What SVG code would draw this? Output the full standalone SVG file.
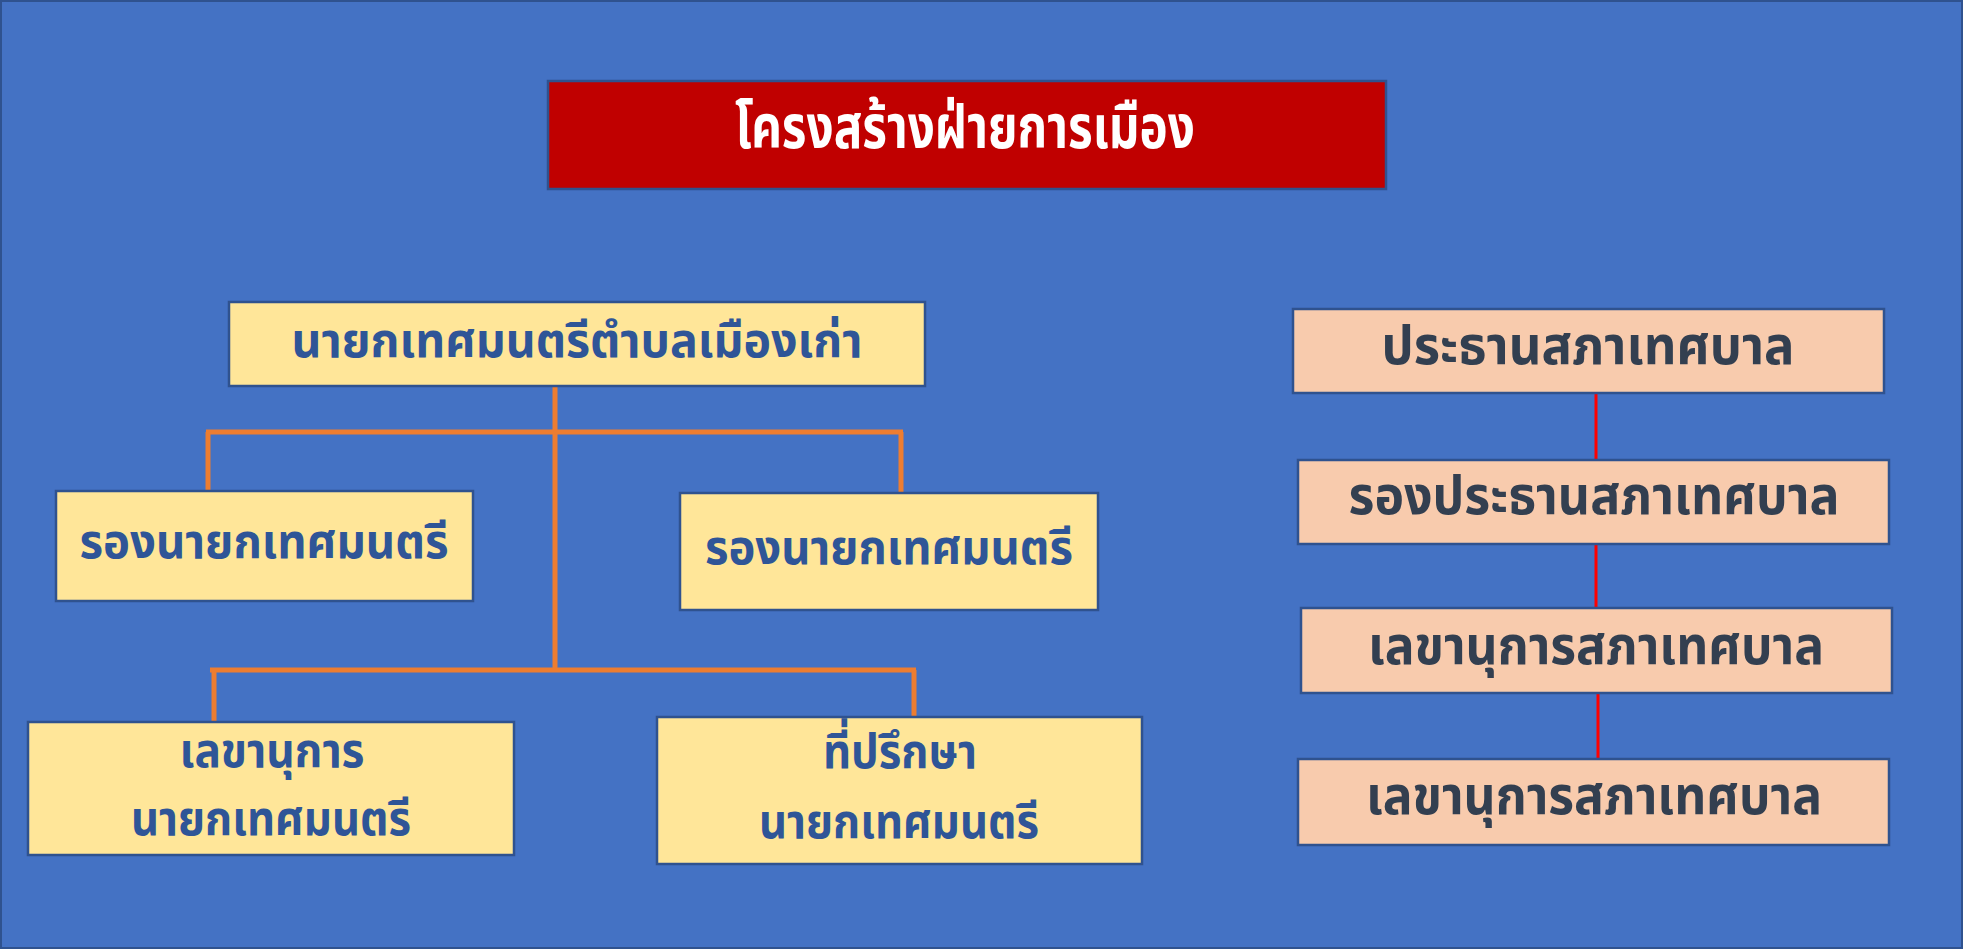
<svg xmlns="http://www.w3.org/2000/svg" width="1963" height="949" viewBox="0 0 1963 949">
  <style>
    .box { stroke: #2F528F; stroke-width: 2.5; }
    .yel { fill: #FFE699; }
    .peach { fill: #F8CBAD; }
    .t { font-family: "Noto Sans Thai", "Noto Sans", "DejaVu Sans", sans-serif; font-weight: bold; text-anchor: middle; }
    .blue { fill: #2F5597; font-size: 48px; }
    .gray { fill: #333F50; font-size: 54px; }
    .org { stroke: #ED7D31; stroke-width: 5; fill: none; }
    .red { stroke: #FF0000; stroke-width: 3; fill: none; }
  </style>
  <rect x="1" y="1" width="1961" height="947" fill="#4472C4" stroke="#2F528F" stroke-width="2"/>

  <g id="title">
    <rect class="box" x="548" y="81" width="838" height="108" fill="#C00000"/>
    <text class="t" x="965" y="148" font-size="60" fill="#FFFFFF" textLength="460" lengthAdjust="spacingAndGlyphs">โครงสร้างฝ่ายการเมือง</text>
  </g>

  <g id="connectors">
    <path class="org" d="M555 386 V670"/>
    <path class="org" d="M206 432 H903"/>
    <path class="org" d="M208 432 V491"/>
    <path class="org" d="M901 432 V493"/>
    <path class="org" d="M210 670 H916"/>
    <path class="org" d="M214 670 V722"/>
    <path class="org" d="M914 670 V717"/>
    <path class="red" d="M1596 393 V459"/>
    <path class="red" d="M1596 544 V608"/>
    <path class="red" d="M1598 693 V759"/>
  </g>

  <g id="mayor">
    <rect class="box yel" x="229" y="302" width="696" height="84"/>
    <text class="t blue" x="577" y="357" textLength="571" lengthAdjust="spacingAndGlyphs">นายกเทศมนตรีตำบลเมืองเก่า</text>
  </g>
  <g id="deputy1">
    <rect class="box yel" x="56" y="491" width="417" height="110"/>
    <text class="t blue" x="264" y="558" textLength="369" lengthAdjust="spacingAndGlyphs">รองนายกเทศมนตรี</text>
  </g>
  <g id="deputy2">
    <rect class="box yel" x="680" y="493" width="418" height="117"/>
    <text class="t blue" x="889" y="564" textLength="368" lengthAdjust="spacingAndGlyphs">รองนายกเทศมนตรี</text>
  </g>
  <g id="secretary">
    <rect class="box yel" x="28" y="722" width="486" height="133"/>
    <text class="t blue" x="272" y="767" textLength="185" lengthAdjust="spacingAndGlyphs">เลขานุการ</text>
    <text class="t blue" x="271" y="835" textLength="280" lengthAdjust="spacingAndGlyphs">นายกเทศมนตรี</text>
  </g>
  <g id="advisor">
    <rect class="box yel" x="657" y="717" width="485" height="147"/>
    <text class="t blue" x="900" y="768" textLength="154" lengthAdjust="spacingAndGlyphs">ที่ปรึกษา</text>
    <text class="t blue" x="899" y="838" textLength="280" lengthAdjust="spacingAndGlyphs">นายกเทศมนตรี</text>
  </g>

  <g id="council-chair">
    <rect class="box peach" x="1293" y="309" width="591" height="84"/>
    <text class="t gray" x="1588" y="364" textLength="413" lengthAdjust="spacingAndGlyphs">ประธานสภาเทศบาล</text>
  </g>
  <g id="council-vice">
    <rect class="box peach" x="1298" y="460" width="591" height="84"/>
    <text class="t gray" x="1594" y="514" textLength="491" lengthAdjust="spacingAndGlyphs">รองประธานสภาเทศบาล</text>
  </g>
  <g id="council-secretary1">
    <rect class="box peach" x="1301" y="608" width="591" height="85"/>
    <text class="t gray" x="1596" y="664" textLength="456" lengthAdjust="spacingAndGlyphs">เลขานุการสภาเทศบาล</text>
  </g>
  <g id="council-secretary2">
    <rect class="box peach" x="1298" y="759" width="591" height="86"/>
    <text class="t gray" x="1594" y="814" textLength="456" lengthAdjust="spacingAndGlyphs">เลขานุการสภาเทศบาล</text>
  </g>
</svg>
